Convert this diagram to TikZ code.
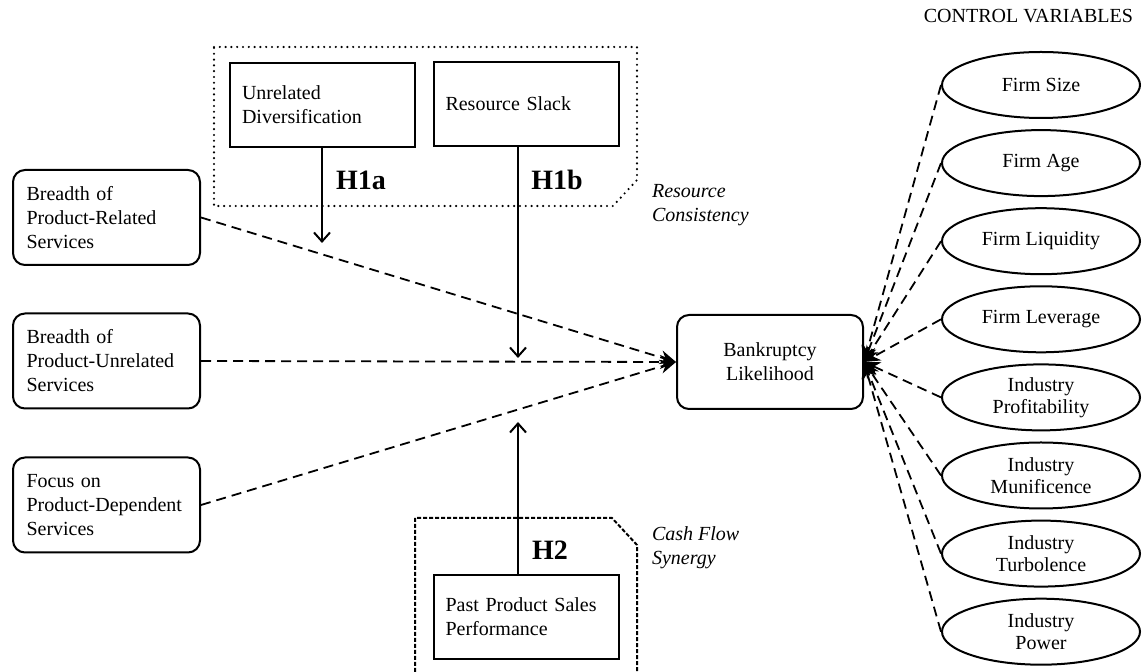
\documentclass[tikz,border=0pt]{standalone}
\usepackage{fontspec}
\setmainfont{Liberation Serif}
\usetikzlibrary{positioning,calc,arrows.meta,shapes.geometric}

\tikzset{
  txt/.style={font=\fontsize{10}{12}\selectfont},
  svcbox/.style={txt, draw, rounded corners=6pt, line width=1pt, text width=80pt,
    inner xsep=6.75pt, minimum height=47.5pt, align=left},
  modbox/.style={txt, draw, line width=1pt, text width=80.5pt, inner xsep=6pt,
    minimum height=42pt, align=left},
  outbox/.style={txt, draw, rounded corners=6pt, line width=1pt, minimum width=93pt,
    minimum height=47pt, align=center},
  ctrlvar/.style={draw, ellipse, line width=1pt, minimum width=99pt, minimum height=33pt,
    inner sep=0pt, align=center, font=\fontsize{10}{11}\selectfont},
  hyp/.style={font=\fontsize{14}{16}\selectfont\bfseries},
  theme/.style={font=\fontsize{10}{12}\selectfont\itshape, align=left, anchor=west},
  dasharrow/.style={line width=0.9pt, dash pattern=on 5pt off 3pt, -{Stealth[length=8pt,width=7pt]}},
  modarrow/.style={line width=1pt, -{Straight Barb[length=4.5pt,width=8pt]}},
  dotgroup/.style={line width=1.2pt, line cap=round, dash pattern=on 0pt off 2.9pt},
  dashgroup/.style={line width=1pt, dash pattern=on 2pt off 1pt},
}

\begin{document}
\begin{tikzpicture}[x=0.5pt,y=-0.5pt]
  \useasboundingbox (0,0) rectangle (1142,672);
  % GROUP 1 (dotted): resource consistency moderators
  \draw[dotgroup] (214,47) -- (637,47) -- (637,180) -- (613,206) -- (214,206) -- cycle;
  \node[modbox] (ud) at (322.5,105) {Unrelated\\Diversification};
  \node[modbox] (rs) at (526,104) {Resource Slack};
  \node[theme] (rc) at (645,205) {Resource\\Consistency};
  % GROUP 2 (dashed): cash flow synergy moderator
  \draw[dashgroup] (415,672) -- (415,518) -- (612,518) -- (637,545) -- (637,672);
  \node[modbox] (pps) at (526,617) {Past Product Sales\\Performance};
  \node[theme] (cf) at (645,548) {Cash Flow\\Synergy};
  % predictors and outcome
  \node[svcbox] (prs) at (106.5,217.5) {Breadth of\\Product-Related\\Services};
  \node[svcbox] (pus) at (106.5,361) {Breadth of\\Product-Unrelated\\Services};
  \node[svcbox] (pds) at (106.5,505) {Focus on\\Product-Dependent\\Services};
  \node[outbox] (bl) at (770,362) {Bankruptcy\\Likelihood};
  \draw[dasharrow] (prs.east) -- (bl.west);
  \draw[dasharrow] (pus.east) -- (bl.west);
  \draw[dasharrow] (pds.east) -- (bl.west);
  % moderating effects
  \coordinate (h1atip) at (322,243);
  \coordinate (h1btip) at (518,358);
  \coordinate (h2tip) at (518,422);
  \draw[modarrow] (ud.south -| h1atip) -- (h1atip);
  \draw[modarrow] (rs.south -| h1btip) -- (h1btip);
  \draw[modarrow] (pps.north -| h2tip) -- (h2tip);
  \node[hyp] (h1a) at (361,180) {H1a};
  \node[hyp] (h1b) at (557,180) {H1b};
  \node[hyp] (h2) at (550,550) {H2};
  % control variables
  \node[txt, anchor=east] (cv) at (1140,16) {CONTROL VARIABLES};
  \foreach \lbl [count=\i] in {Firm Size, Firm Age, Firm Liquidity, Firm Leverage,
      {Industry\\Profitability}, {Industry\\Munificence}, {Industry\\Turbolence}, {Industry\\Power}}
    \node[ctrlvar] (c\i) at (1041,{85+78.1*(\i-1)}) {\lbl};
  \foreach \i in {1,...,8}
    \draw[dasharrow] (c\i.west) -- (bl.east);
\end{tikzpicture}
\end{document}
